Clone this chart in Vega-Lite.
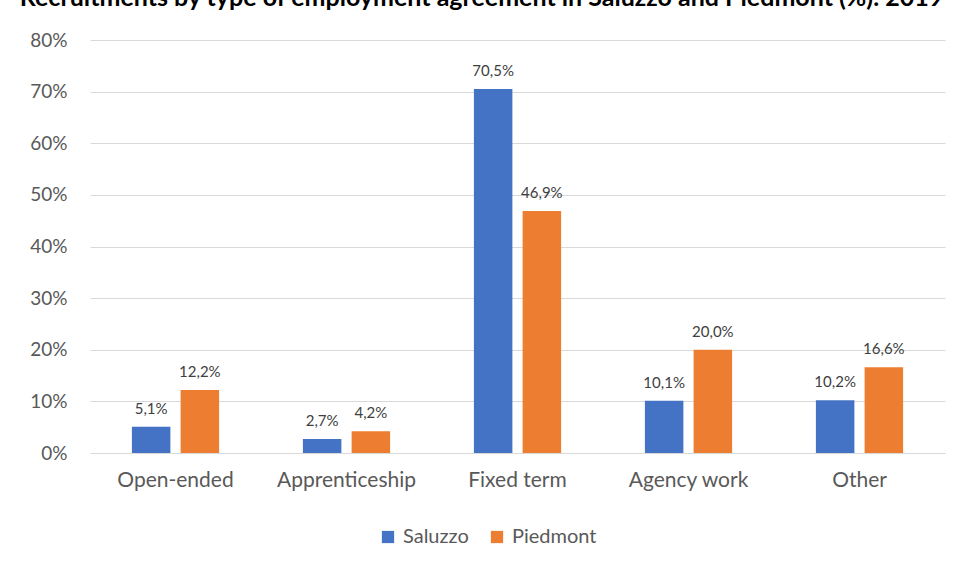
{
  "$schema": "https://vega.github.io/schema/vega-lite/v6.json",
  "autosize": "none",
  "width": 855,
  "height": 413,
  "padding": {"left": 90, "top": 40, "right": 13, "bottom": 116},
  "background": "white",
  "title": {
    "text": "Recruitments by type of employment agreement in Saluzzo and Piedmont (%). 2019",
    "fontSize": 25,
    "fontWeight": "bold",
    "font": "Lato",
    "color": "#000000",
    "anchor": "middle",
    "offset": 0,
    "dx": -36,
    "baseline": "alphabetic"
  },
  "config": {
    "view": {"stroke": null},
    "font": "Lato",
    "locale": {"number": {"decimal": ",", "thousands": ".", "grouping": [3], "currency": ["", " €"]}}
  },
  "data": {
    "values": [
      {"type": "Open-ended", "area": "Saluzzo", "value": 0.051},
      {"type": "Open-ended", "area": "Piedmont", "value": 0.122},
      {"type": "Apprenticeship", "area": "Saluzzo", "value": 0.027},
      {"type": "Apprenticeship", "area": "Piedmont", "value": 0.042},
      {"type": "Fixed term", "area": "Saluzzo", "value": 0.705},
      {"type": "Fixed term", "area": "Piedmont", "value": 0.469},
      {"type": "Agency work", "area": "Saluzzo", "value": 0.101},
      {"type": "Agency work", "area": "Piedmont", "value": 0.200},
      {"type": "Other", "area": "Saluzzo", "value": 0.102},
      {"type": "Other", "area": "Piedmont", "value": 0.166}
    ]
  },
  "encoding": {
    "x": {
      "field": "type", "type": "nominal", "sort": null,
      "scale": {"paddingInner": 0.49, "paddingOuter": 0.245},
      "axis": {
        "title": null, "labelAngle": 0, "labelFontSize": 21, "labelColor": "#595959",
        "labelPadding": 16, "ticks": false, "domainColor": "#d9d9d9", "labelFont": "Lato"
      }
    },
    "xOffset": {
      "field": "area", "type": "nominal", "sort": ["Saluzzo", "Piedmont"],
      "scale": {"paddingInner": 0.21, "paddingOuter": 0}
    },
    "y": {
      "field": "value", "type": "quantitative",
      "scale": {"domain": [0, 0.8], "nice": false},
      "axis": {
        "title": null, "format": ".0%", "values": [0, 0.1, 0.2, 0.3, 0.4, 0.5, 0.6, 0.7, 0.8],
        "labelFontSize": 19, "labelColor": "#595959", "gridColor": "#d9d9d9",
        "domain": false, "ticks": false, "labelPadding": 23
      }
    }
  },
  "layer": [
    {
      "mark": {"type": "bar"},
      "encoding": {
        "color": {
          "field": "area", "type": "nominal", "sort": ["Saluzzo", "Piedmont"],
          "scale": {"domain": ["Saluzzo", "Piedmont"], "range": ["#4472c4", "#ed7d31"]},
          "legend": {
            "title": null, "orient": "none", "direction": "horizontal",
            "legendX": 288, "legendY": 487,
            "symbolType": "square", "symbolSize": 150, "symbolStrokeWidth": 0,
            "labelFontSize": 20, "labelColor": "#595959", "columnPadding": 18, "labelOffset": 5
          }
        }
      }
    },
    {
      "mark": {"type": "text", "baseline": "bottom", "dy": -10, "fontSize": 15, "color": "#404040"},
      "encoding": {
        "text": {"field": "value", "type": "quantitative", "format": ".1%"}
      }
    }
  ]
}
